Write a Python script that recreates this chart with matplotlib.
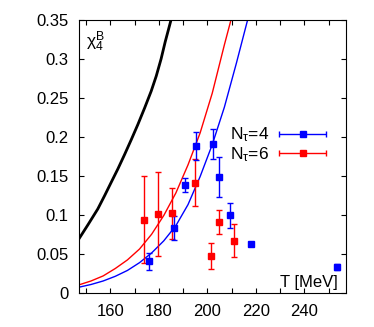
import numpy as np
import matplotlib.pyplot as plt
from matplotlib.ticker import MultipleLocator, FormatStrFormatter
from matplotlib.legend_handler import HandlerErrorbar
from matplotlib.container import ErrorbarContainer

plt.rcParams['font.family'] = ['Liberation Sans', 'DejaVu Sans']
plt.rcParams['mathtext.fontset'] = 'custom'
plt.rcParams['mathtext.rm'] = 'Liberation Sans'
plt.rcParams['mathtext.it'] = 'Liberation Sans'

# lattice data, N_tau = 4
T4 = [176.0, 186.3, 190.8, 195.5, 202.4, 204.9, 209.4, 218.1, 253.5]
chi4 = [0.0403, 0.0826, 0.138, 0.1887, 0.1905, 0.148, 0.0993, 0.0621, 0.0334]
err4 = [0.0108, 0.0154, 0.009, 0.018, 0.019, 0.0255, 0.0158, 0.002, 0.004]

# lattice data, N_tau = 6
T6 = [173.8, 179.6, 185.6, 195.0, 201.3, 204.6, 211.0]
chi6 = [0.0937, 0.101, 0.102, 0.141, 0.0471, 0.0908, 0.0668]
err6 = [0.056, 0.054, 0.0325, 0.030, 0.0172, 0.015, 0.0215]

# curves
T_black = [147.0, 150.7, 154.8, 157.6, 160.3, 163.1, 165.8, 168.6, 171.3,
           174.1, 176.8, 178.9, 180.9, 182.6, 184.4, 186.0]
y_black = [0.069, 0.087, 0.1075, 0.1245, 0.1415, 0.159, 0.177, 0.1964, 0.2157,
           0.237, 0.2585, 0.278, 0.300, 0.322, 0.343, 0.362]

T_red = [147, 152, 157, 162, 167, 172, 177, 182, 187, 192, 197, 202, 207, 211]
y_red = [0.0100, 0.0150, 0.0215, 0.031, 0.042, 0.056, 0.075, 0.099, 0.128,
         0.164, 0.205, 0.256, 0.318, 0.365]

T_blue = [147, 152, 157, 162, 167, 172, 177, 182, 187, 192, 197, 202, 207,
          212, 217]
y_blue = [0.0070, 0.0105, 0.0150, 0.0210, 0.0285, 0.0385, 0.0510, 0.0665,
          0.086, 0.113, 0.149, 0.190, 0.238, 0.295, 0.355]

fig = plt.figure(figsize=(3.74, 3.27), dpi=100)
ax = fig.add_axes([0.211, 0.105, 0.713, 0.834])

ax.plot(T_black, y_black, color='black', lw=2)
ax.plot(T_red, y_red, color='red', lw=1)
ax.plot(T_blue, y_blue, color='blue', lw=1)

ax.errorbar(T6, chi6, yerr=err6, fmt='s', color='red', ms=5,
            elinewidth=1, capsize=2, capthick=1)
ax.errorbar(T4, chi4, yerr=err4, fmt='s', color='blue', ms=5,
            elinewidth=1, capsize=2, capthick=1)

# legend entries with horizontal bars
h4 = ax.errorbar([np.nan], [np.nan], xerr=[1], fmt='s', color='blue', ms=5,
                 elinewidth=1, capsize=2, capthick=1, label=r'N$_\tau$=4')
h6 = ax.errorbar([np.nan], [np.nan], xerr=[1], fmt='s', color='red', ms=5,
                 elinewidth=1, capsize=2, capthick=1, label=r'N$_\tau$=6')
ax.legend(handles=[h4, h6], loc='upper right', bbox_to_anchor=(0.934, 0.612),
          frameon=False, markerfirst=False, fontsize=12.5, handlelength=2.9,
          handletextpad=0.5, labelspacing=0.05, borderpad=0, borderaxespad=0,
          handler_map={ErrorbarContainer: HandlerErrorbar(xerr_size=1.35)})

ax.set_xlim(147, 257)
ax.set_ylim(0, 0.35)
ax.xaxis.set_major_locator(MultipleLocator(20))
ax.xaxis.set_minor_locator(MultipleLocator(10))
ax.yaxis.set_major_locator(MultipleLocator(0.05))
ax.yaxis.set_major_formatter(FormatStrFormatter('%g'))
ax.tick_params(which='both', direction='in', top=True, right=True,
               length=3.5, width=0.8, labelsize=12)
ax.tick_params(axis='x', pad=8)
ax.tick_params(axis='y', pad=7.5)

ax.text(0.972, 0.02, 'T [MeV]', transform=ax.transAxes, ha='right',
        va='baseline', fontsize=12)
ax.text(0.026, 0.9, r'$\chi_4^B$', transform=ax.transAxes, ha='left',
        va='baseline', fontsize=12.5)

plt.savefig('out.png', dpi=100)
